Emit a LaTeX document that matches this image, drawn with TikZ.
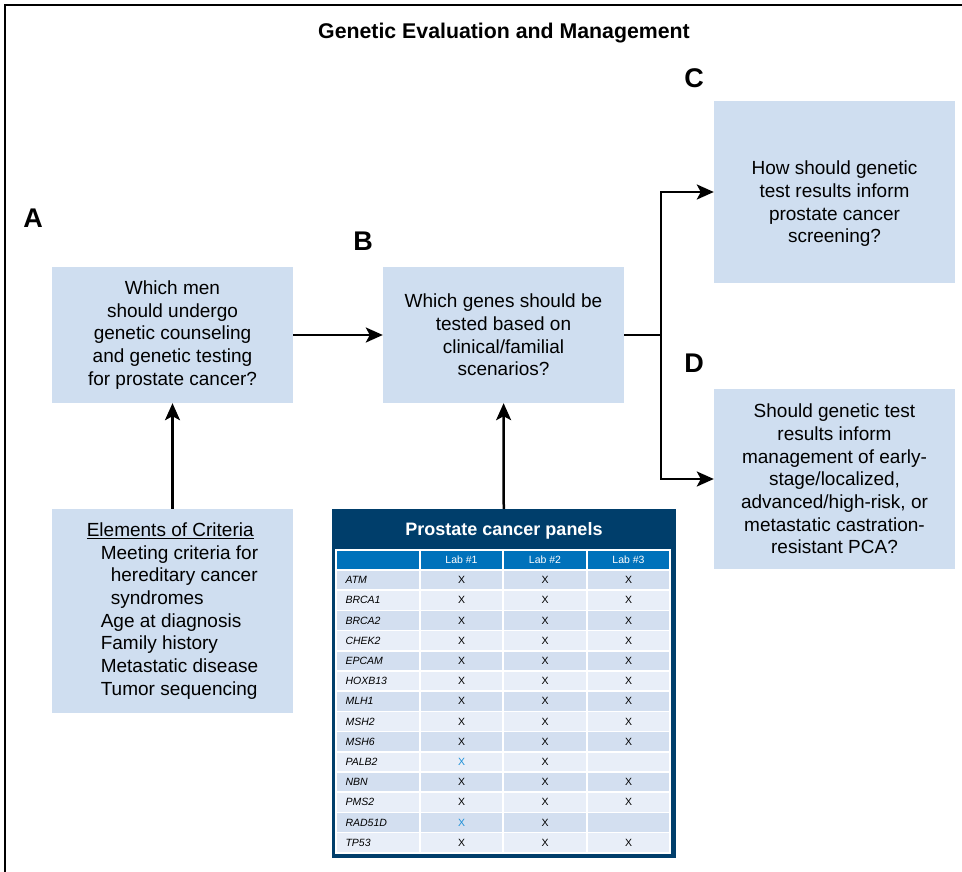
\documentclass[tikz,border=0pt]{standalone}
\usepackage{fontspec}
\setmainfont{Liberation Sans}
\usetikzlibrary{arrows.meta,positioning,calc}

\definecolor{boxblue}{RGB}{207,222,240}
\definecolor{panelnavy}{RGB}{0,62,107}
\definecolor{headblue}{RGB}{0,114,187}
\definecolor{rowdark}{RGB}{211,223,240}
\definecolor{rowlight}{RGB}{232,238,248}
\definecolor{xblue}{RGB}{30,144,215}
\newcommand{\bluex}{\textcolor{xblue}{X}}
\newcommand{\noX}{}

\begin{document}
\begin{tikzpicture}[x=1pt,y=-1pt,
    qbox/.style={fill=boxblue, align=center, inner sep=0pt, minimum width=241pt,
        font=\fontsize{19}{22.7}\selectfont},
    letter/.style={font=\fontsize{27}{27}\selectfont\bfseries},
    arr/.style={line width=2.5pt, -{Stealth[length=17pt,width=15pt,inset=4pt]}},
    cell/.style={font=\fontsize{10.5}{12}\selectfont}]
    \useasboundingbox (0,0) rectangle (962,872);
    \draw[line width=2pt] (5,872) -- (5,5) -- (962,5);
    \node[font=\fontsize{21.3}{24}\selectfont\bfseries] (title) at (504,33) {Genetic Evaluation and Management};

    % section letters
    \node[letter] (labA) at (33,218) {A};
    \node[letter] (labB) at (363,241) {B};
    \node[letter] (labC) at (694,78) {C};
    \node[letter] (labD) at (694,363) {D};

    % question boxes
    \node[qbox, minimum height=136pt] (whomen) at (172.5,335)
        {Which men\\should undergo\\genetic counseling\\and genetic testing\\for prostate cancer?};
    \node[qbox, minimum height=136pt] (genes) at (503.5,335)
        {Which genes should be\\tested based on\\clinical/familial\\scenarios?};
    \node[qbox, minimum height=182pt] (screen) at (834.5,192) {};
    \node[qbox, fill=none] (screentext) at (834.5,204)
        {How should genetic\\test results inform\\prostate cancer\\screening?};
    \node[qbox, minimum height=180pt] (manage) at (834.5,479)
        {Should genetic test\\results inform\\management of early-\\stage/localized,\\advanced/high-risk, or\\metastatic castration-\\resistant PCA?};
    \node[qbox, minimum height=204pt, align=left] (criteria) at (172.5,611)
        {\underline{Elements of Criteria}\\
         \hspace*{14pt}Meeting criteria for\\
         \hspace*{24pt}hereditary cancer\\
         \hspace*{24pt}syndromes\\
         \hspace*{14pt}Age at diagnosis\\
         \hspace*{14pt}Family history\\
         \hspace*{14pt}Metastatic disease\\
         \hspace*{14pt}Tumor sequencing};

    % gene panel table
    \node[fill=panelnavy, minimum width=344pt, minimum height=349pt, inner sep=0pt] (panel) at (504,683.5) {};
    \node[text=white, font=\fontsize{18}{20}\selectfont\bfseries] (paneltitle) at (504,531) {Prostate cancer panels};
    \fill[headblue] (336,550) rectangle (670,570);
    \node[cell, text=white] (lab1) at (461.5,560) {Lab \#1};
    \node[cell, text=white] (lab2) at (545,560) {Lab \#2};
    \node[cell, text=white] (lab3) at (628.5,560) {Lab \#3};
    \foreach \g/\a/\b/\c [count=\i] in {ATM/X/X/X, BRCA1/X/X/X, BRCA2/X/X/X, CHEK2/X/X/X,
        EPCAM/X/X/X, HOXB13/X/X/X, MLH1/X/X/X, MSH2/X/X/X, MSH6/X/X/X, PALB2/\bluex/X/\noX,
        NBN/X/X/X, PMS2/X/X/X, RAD51D/\bluex/X/\noX, TP53/X/X/X} {
        \pgfmathsetmacro\top{570+(\i-1)*20.2}
        \ifodd\i \def\rowcol{rowdark}\else\def\rowcol{rowlight}\fi
        \fill[\rowcol] (336,\top) rectangle (670,\top+20.2);
        \node[cell, font=\fontsize{10.5}{12}\selectfont\itshape, anchor=west] (gene\i) at (342,\top+10.1) {\g};
        \node[cell] (xa\i) at (461.5,\top+10.1) {\a};
        \node[cell] (xb\i) at (545,\top+10.1) {\b};
        \node[cell] (xc\i) at (628.5,\top+10.1) {\c};
    }
    \foreach \xc in {420,503,587}
        \draw[white, line width=1.5pt] (\xc,550) -- (\xc,853);
    \foreach \j in {1,...,14}
        \draw[white, line width=1.5pt] (336,549.8+\j*20.2) -- (670,549.8+\j*20.2);
    \draw[white, line width=1.5pt] (336,550) rectangle (670,853);

    % connectors
    \draw[arr] (criteria) -- (whomen);
    \draw[arr] (whomen) -- (genes);
    \draw[arr] (panel) -- (genes);
    \draw[line width=2.5pt] (genes.east) -- ++(37,0) coordinate (fork);
    \draw[arr] (fork) |- (screen.west);
    \draw[arr] (fork) |- (manage.west);
\end{tikzpicture}
\end{document}
